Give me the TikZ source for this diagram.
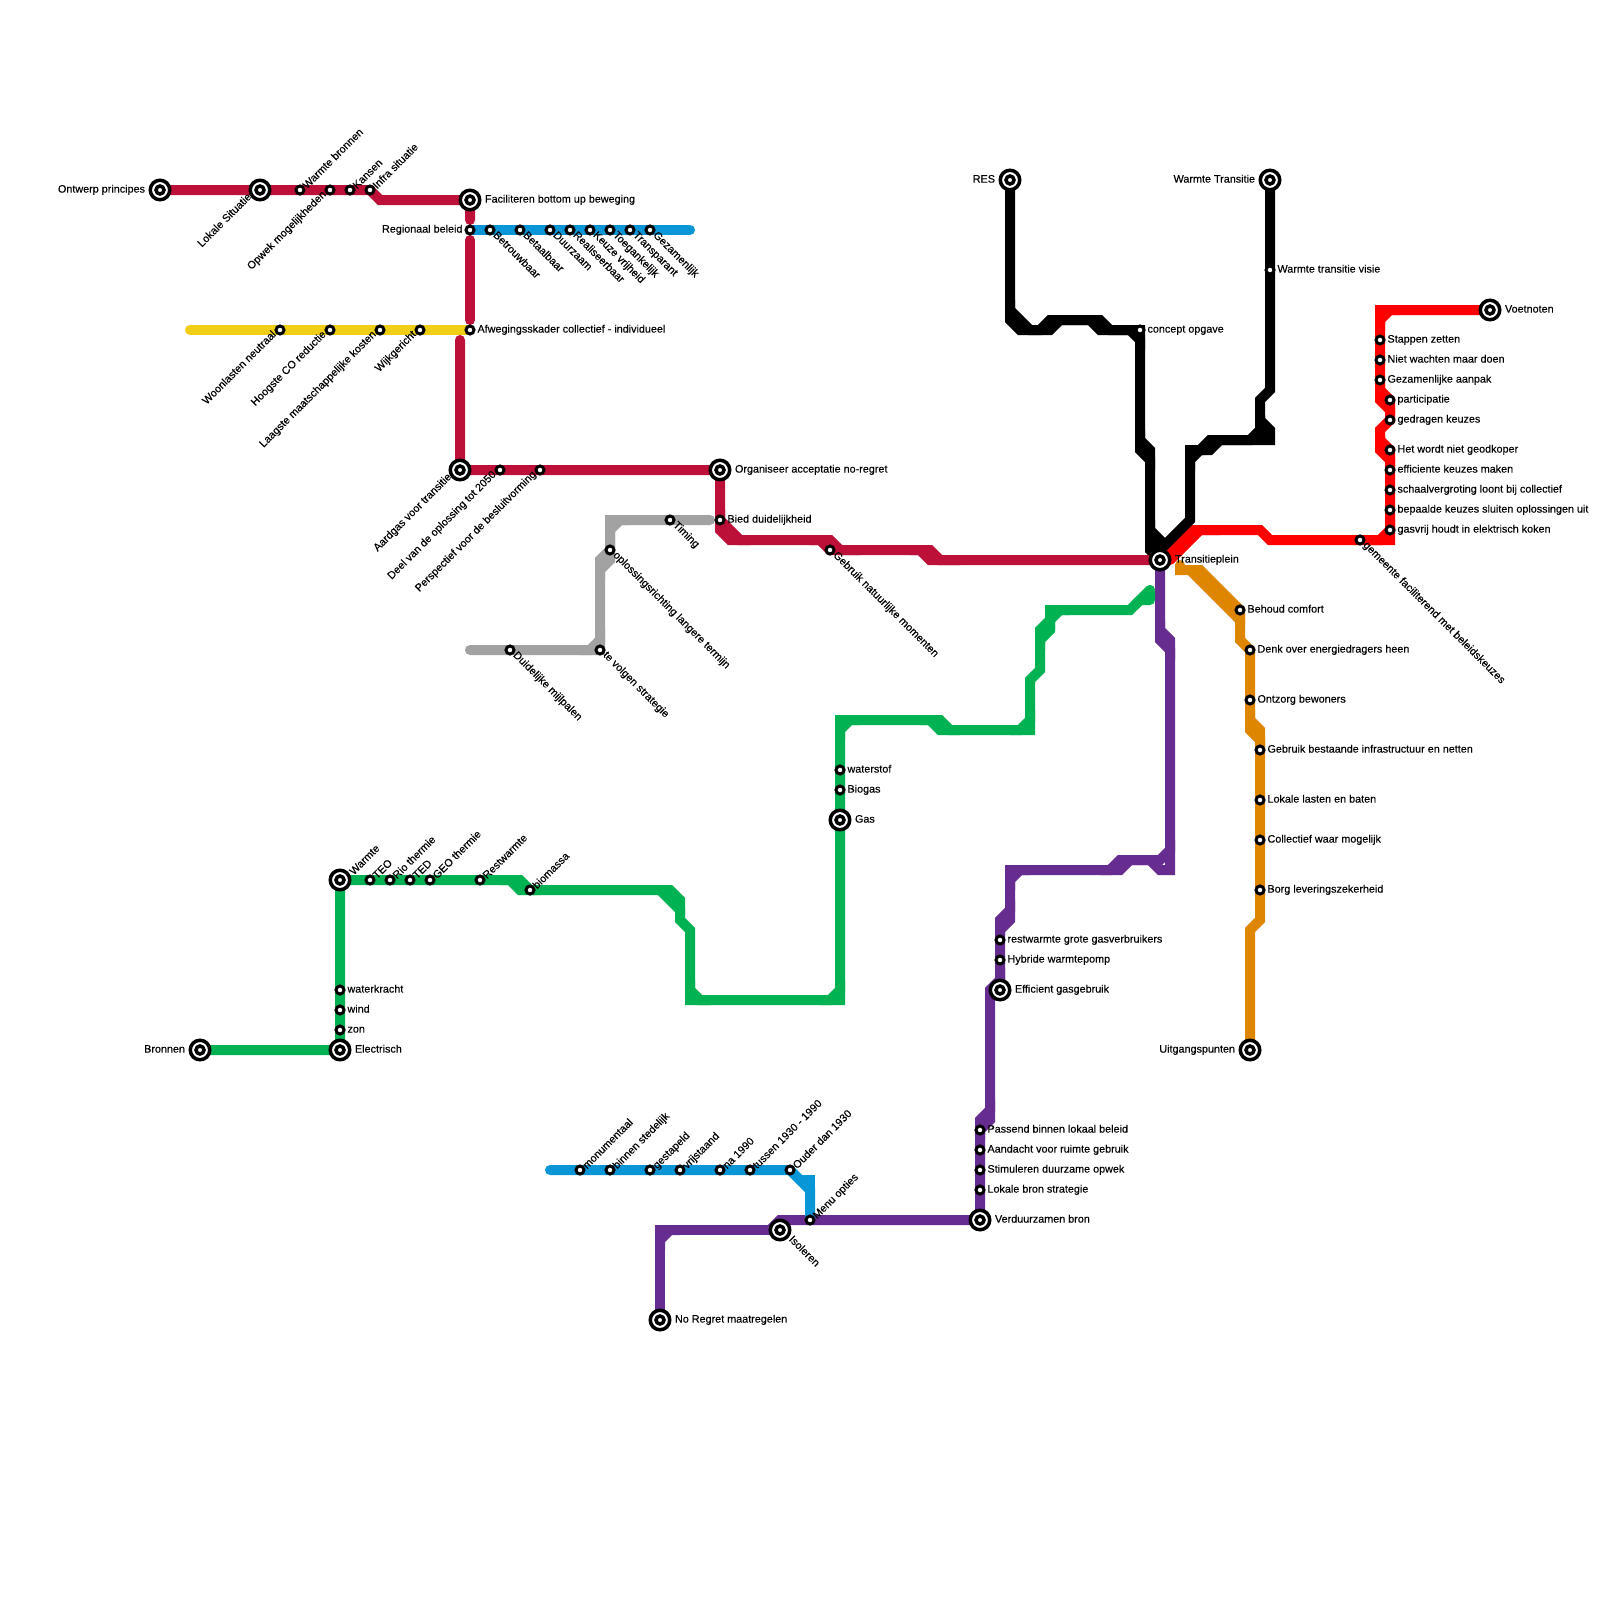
\documentclass[tikz,border=0pt]{standalone}
\usepackage{fontspec}
\setmainfont{Liberation Sans}[FakeBold=0.25]
\pgfdeclarelayer{lines}
\pgfsetlayers{lines,main}
\definecolor{crim}{HTML}{BD1038}
\definecolor{sky}{HTML}{0896D7}
\definecolor{gold}{HTML}{F0CE15}
\definecolor{grn}{HTML}{00B251}
\definecolor{pur}{HTML}{662C90}
\definecolor{org}{HTML}{DF8600}
\definecolor{gry}{HTML}{A2A2A2}
\definecolor{rd}{HTML}{FF0000}
\tikzset{
  mline/.style={line width=10pt,line cap=round,line join=miter,miter limit=10},
  stn/.style={circle,draw=black,fill=white,line width=3pt,minimum size=8pt,inner sep=0pt,outer sep=0pt},
  xo/.style={circle,draw=black,fill=white,line width=3.5pt,minimum size=19.5pt,inner sep=0pt,outer sep=0pt},
  xi/.style={circle,draw=black,fill=white,line width=3.5pt,minimum size=8pt,inner sep=0pt,outer sep=0pt},
  lb/.style={font=\fontsize{10.8}{12}\selectfont,inner sep=0pt,outer sep=0pt,text=black},
  R/.style={lb,anchor=base west,xshift=7.5pt,yshift=-2.6pt},
  RX/.style={lb,anchor=base west,xshift=15pt,yshift=-2.6pt},
  L/.style={lb,anchor=base east,xshift=-7.5pt,yshift=-2.6pt},
  LX/.style={lb,anchor=base east,xshift=-15pt,yshift=-2.6pt},
  UR/.style={lb,anchor=mid west,rotate=45,xshift=5.5pt,yshift=-2pt},
  URX/.style={lb,anchor=mid west,rotate=45,xshift=13pt,yshift=-4pt},
  DR/.style={lb,anchor=mid west,rotate=-45,xshift=6pt,yshift=0.5pt},
  DRX/.style={lb,anchor=mid west,rotate=-45,xshift=13pt,yshift=1.5pt},
  DL/.style={lb,anchor=mid east,rotate=45,xshift=-6pt,yshift=1.5pt},
  DLX/.style={lb,anchor=mid east,rotate=45,xshift=-11pt,yshift=3pt},
}
\newcommand{\st}[4]{\node[stn] (#1) at (#2) {}; \node[#3] (#1-t) at (#1) {#4};}
\newcommand{\xc}[4]{\node[xo] (#1) at (#2) {}; \node[xi] (#1-i) at (#1) {}; \node[#3] (#1-t) at (#1) {#4};}
\begin{document}
\begin{tikzpicture}[x=1pt,y=-1pt]
\useasboundingbox (0,0) rectangle (1600,1600);
% stations: crimson
\xc{ontw}{160,190}{LX}{Ontwerp principes}
\xc{lok}{260,190}{DLX}{Lokale Situatie}
\st{wbr}{300,190}{UR}{Warmte bronnen}
\st{opw}{330,190}{DL}{Opwek mogelijkheden}
\st{kan}{350,190}{UR}{Kansen}
\st{inf}{370,190}{UR}{Infra situatie}
\xc{fac}{470,200}{RX}{Faciliteren bottom up beweging}
\st{reg}{470,230}{L}{Regionaal beleid}
\st{afw}{470,330}{R}{Afwegingsskader collectief - individueel}
\xc{aar}{460,470}{DLX}{Aardgas voor transitie}
\st{dee}{500,470}{DL}{Deel van de oplossing tot 2050}
\st{per}{540,470}{DL}{Perspectief voor de besluitvorming}
\xc{org}{720,470}{RX}{Organiseer acceptatie no-regret}
\st{bie}{720,520}{R}{Bied duidelijkheid}
\st{geb}{830,550}{DR}{Gebruik natuurlijke momenten}
% blue top
\st{bet}{490,230}{DR}{Betrouwbaar}
\st{bet2}{520,230}{DR}{Betaalbaar}
\st{duu}{550,230}{DR}{Duurzaam}
\st{rea}{570,230}{DR}{Realiseerbaar}
\st{keu}{590,230}{DR}{Keuze vrijheid}
\st{toe}{610,230}{DR}{Toegankelijk}
\st{tra}{630,230}{DR}{Transparant}
\st{gez}{650,230}{DR}{Gezamenlijk}
\coordinate (blueend) at (690,230);
% yellow
\coordinate (yelstart) at (190,330);
\st{woo}{280,330}{DL}{Woonlasten neutraal}
\st{hoo}{330,330}{DL}{Hoogste CO reductie}
\st{laa}{380,330}{DL}{Laagste maatschappelijke kosten}
\st{wij}{420,330}{DL}{Wijkgericht}
% grey
\st{tim}{670,520}{DR}{Timing}
\st{opl}{610,550}{DR}{oplossingsrichting langere termijn}
\st{tev}{600,650}{DR}{te volgen strategie}
\st{dui}{510,650}{DR}{Duidelijke mijlpalen}
\coordinate (greyend) at (710,520);
% green
\xc{war}{340,880}{URX}{Warmte}
\st{teo}{370,880}{UR}{TEO}
\st{rio}{390,880}{UR}{Rio thermie}
\st{ted}{410,880}{UR}{TED}
\st{geo}{430,880}{UR}{GEO thermie}
\st{res}{480,880}{UR}{Restwarmte}
\st{bio}{530,890}{UR}{biomassa}
\st{wat}{340,990}{R}{waterkracht}
\st{win}{340,1010}{R}{wind}
\st{zon}{340,1030}{R}{zon}
\xc{ele}{340,1050}{RX}{Electrisch}
\xc{bro}{200,1050}{LX}{Bronnen}
\st{wst}{840,770}{R}{waterstof}
\st{bga}{840,790}{R}{Biogas}
\xc{gas}{840,820}{RX}{Gas}
% purple
\xc{tpl}{1160,560}{RX}{Transitieplein}
\st{rst}{1000,940}{R}{restwarmte grote gasverbruikers}
\st{hyb}{1000,960}{R}{Hybride warmtepomp}
\xc{eff}{1000,990}{RX}{Efficient gasgebruik}
\st{pas}{980,1130}{R}{Passend binnen lokaal beleid}
\st{aan}{980,1150}{R}{Aandacht voor ruimte gebruik}
\st{sti}{980,1170}{R}{Stimuleren duurzame opwek}
\st{lbs}{980,1190}{R}{Lokale bron strategie}
\xc{ver}{980,1220}{RX}{Verduurzamen bron}
\st{men}{810,1220}{UR}{Menu opties}
\xc{iso}{780,1230}{DRX}{Isoleren}
\xc{nor}{660,1320}{RX}{No Regret maatregelen}
% blue bottom
\coordinate (bbstart) at (550,1170);
\st{mon}{580,1170}{UR}{monumentaal}
\st{bin}{610,1170}{UR}{binnen stedelijk}
\st{ges}{650,1170}{UR}{gestapeld}
\st{vrij}{680,1170}{UR}{vrijstaand}
\st{na}{720,1170}{UR}{na 1990}
\st{tus}{750,1170}{UR}{tussen 1930 - 1990}
\st{oud}{790,1170}{UR}{Ouder dan 1930}
% black
\xc{rs}{1010,180}{LX}{RES}
\xc{wt}{1270,180}{LX}{Warmte Transitie}
\st{wtv}{1270,270}{R}{Warmte transitie visie}
\st{con}{1140,330}{R}{concept opgave}
% red
\xc{voe}{1490,310}{RX}{Voetnoten}
\st{sta}{1380,340}{R}{Stappen zetten}
\st{nie}{1380,360}{R}{Niet wachten maar doen}
\st{gaa}{1380,380}{R}{Gezamenlijke aanpak}
\st{par}{1390,400}{R}{participatie}
\st{ged}{1390,420}{R}{gedragen keuzes}
\st{het}{1390,450}{R}{Het wordt niet geodkoper}
\st{efk}{1390,470}{R}{efficiente keuzes maken}
\st{sch}{1390,490}{R}{schaalvergroting loont bij collectief}
\st{bep}{1390,510}{R}{bepaalde keuzes sluiten oplossingen uit}
\st{gsv}{1390,530}{R}{gasvrij houdt in elektrisch koken}
\st{gem}{1360,540}{DR}{gemeente faciliterend met beleidskeuzes}
% orange
\st{beh}{1240,610}{R}{Behoud comfort}
\st{den}{1250,650}{R}{Denk over energiedragers heen}
\st{ont}{1250,700}{R}{Ontzorg bewoners}
\st{gbr}{1260,750}{R}{Gebruik bestaande infrastructuur en netten}
\st{lla}{1260,800}{R}{Lokale lasten en baten}
\st{col}{1260,840}{R}{Collectief waar mogelijk}
\st{bor}{1260,890}{R}{Borg leveringszekerheid}
\xc{uit}{1250,1050}{LX}{Uitgangspunten}
\begin{pgfonlayer}{lines}
\fill[white] (0,0) rectangle (1600,1600);
% purple
\draw[mline,pur] (tpl.center) -- (1160,640) -- (1170,650) -- (1170,870) -- (1160,870) -- (1150,860) -- (1130,860) -- (1120,870) -- (1010,870) -- (1010,920) -- (1000,930) -- (eff.center);
\draw[mline,pur] (1160,620) -- (1160,630) -- (1170,640) -- (1170,660);
\draw[mline,pur] (1170,840) -- (1170,850) -- (1160,860) -- (1120,860) -- (1110,870) -- (1100,870);
\draw[mline,pur] (1030,870) -- (1020,870) -- (1010,880) -- (1010,890);
\draw[mline,pur] (1010,900) -- (1010,910) -- (1000,920) -- (1000,935);
\draw[mline,pur] (eff.center) -- (1000,980) -- (990,990) -- (990,1120) -- (980,1130) -- (ver.center);
\draw[mline,pur] (990,1100) -- (990,1110) -- (980,1120) -- (980,1140);
\draw[mline,pur] (ver.center) -- (780,1220) -- (770,1230);
\draw[mline,pur] (iso.center) -- (660,1230) -- (nor.center);
\draw[mline,pur] (680,1230) -- (670,1230) -- (660,1240) -- (660,1250);
% orange
\draw[mline,org] (1180,565) -- (1180,570) -- (1190,570) -- (1240,620) -- (1240,640) -- (1250,650) -- (1250,730) -- (1260,740) -- (1260,920) -- (1250,930) -- (uit.center);
\draw[mline,org] (1190,570) -- (1200,570) -- (1240,610) -- (1240,625);
\draw[mline,org] (1250,710) -- (1250,720) -- (1260,730) -- (1260,745);
% red
\draw[mline,rd] (tpl.center) -- (1190,530) -- (1260,530) -- (1270,540) -- (1390,540) -- (1390,460) -- (1380,450) -- (1380,430) -- (1390,420) -- (1390,400) -- (1380,390) -- (1380,310) -- (voe.center);
\draw[mline,rd] (1170,560) -- (1200,530) -- (1220,530);
\draw[mline,rd] (1370,540) -- (1380,540) -- (1390,530) -- (1390,520);
\draw[mline,rd] (1380,435) -- (1380,440) -- (1390,450) -- (1390,470);
\draw[mline,rd] (1380,385) -- (1380,400) -- (1390,410) -- (1390,415);
\draw[mline,rd] (1400,310) -- (1390,310) -- (1380,320) -- (1380,330);
% black
\draw[mline,black] (rs.center) -- (1010,320) -- (1020,330) -- (1050,330) -- (1060,320) -- (1090,320) -- (1100,330) -- (con.center) -- (1140,450) -- (1150,460) -- (1150,550) -- (tpl.center);
\draw[mline,black] (1010,300) -- (1010,310) -- (1030,330) -- (1040,330) -- (1050,320) -- (1100,320) -- (1110,330) -- (1120,330);
\draw[mline,black] (1120,330) -- (1130,330) -- (1140,340) -- (1140,350);
\draw[mline,black] (1140,430) -- (1140,440) -- (1150,450) -- (1150,470);
\draw[mline,black] (1150,520) -- (1150,530) -- (1160,540) -- (tpl.center);
\draw[mline,black] (wt.center) -- (1270,390) -- (1260,400) -- (1260,420) -- (1270,430) -- (1270,440) -- (1220,440) -- (1210,450) -- (1190,450) -- (1190,520) -- (1150,560);
\draw[mline,black] (1260,415) -- (1260,430) -- (1250,440) -- (1230,440);
\fill[black] (1258,420) -- (1270,430) -- (1270,440) -- (1258,440) -- cycle;
\draw[mline,black] (1230,440) -- (1210,440) -- (1200,450) -- (1195,450);
\draw[mline,black] (1205,450) -- (1200,450) -- (1190,460) -- (1190,470);
% grey
\draw[mline,gry] (greyend) -- (610,520) -- (610,560) -- (600,570) -- (tev.center) -- (470,650);
\draw[mline,gry] (610,540) -- (610,550) -- (600,560) -- (600,580);
\draw[mline,gry] (630,520) -- (620,520) -- (610,530) -- (610,540);
\draw[mline,gry] (600,630) -- (600,640) -- (590,650) -- (580,650);
% crimson
\draw[mline,crim] (ontw.center) -- (370,190) -- (380,200) -- (fac.center) -- (470,220);
\draw[mline,crim] (470,240) -- (470,320);
\draw[mline,crim] (460,340) -- (aar.center) -- (org.center) -- (720,530) -- (730,540) -- (820,540) -- (830,550) -- (920,550) -- (930,560) -- (tpl.center);
\draw[mline,crim] (720,510) -- (720,520) -- (740,540) -- (750,540);
\draw[mline,crim] (810,540) -- (830,540) -- (840,550) -- (860,550);
\draw[mline,crim] (910,550) -- (930,550) -- (940,560) -- (960,560);
% blue
\draw[mline,sky] (reg.center) -- (blueend);
\draw[mline,sky] (bbstart) -- (oud.center) -- (810,1190) -- (men.center);
\draw[mline,sky] (800,1180) -- (810,1180) -- (810,1195);
% yellow
\draw[mline,gold] (yelstart) -- (afw.center);
% green
\draw[mline,grn] (bro.center) -- (ele.center) -- (war.center) -- (510,880) -- (520,890) -- (660,890) -- (680,910) -- (680,920) -- (690,930) -- (690,1000) -- (840,1000) -- (840,720) -- (930,720) -- (940,730) -- (1030,730) -- (1030,680) -- (1040,670) -- (1040,640) -- (1050,630) -- (1050,610) -- (1130,610) -- (1150,590);
\draw[mline,grn,line join=round] (1150,590) -- (1150,600) -- (1140,600) -- (1135,605);
\draw[mline,grn] (500,880) -- (520,880) -- (530,890) -- (540,890);
\draw[mline,grn] (660,890) -- (670,890) -- (680,900) -- (680,915);
\draw[mline,grn] (690,980) -- (690,990) -- (700,1000) -- (710,1000);
\draw[mline,grn] (820,1000) -- (830,1000) -- (840,990) -- (840,980);
\draw[mline,grn] (840,740) -- (840,730) -- (850,720) -- (860,720);
\draw[mline,grn] (920,720) -- (940,720) -- (950,730) -- (960,730);
\draw[mline,grn] (1010,730) -- (1020,730) -- (1030,720) -- (1030,710);
\draw[mline,grn] (1040,650) -- (1040,630) -- (1050,620) -- (1050,615);
\draw[mline,grn] (1070,610) -- (1060,610) -- (1050,620) -- (1050,630);
\end{pgfonlayer}
\end{tikzpicture}
\end{document}
